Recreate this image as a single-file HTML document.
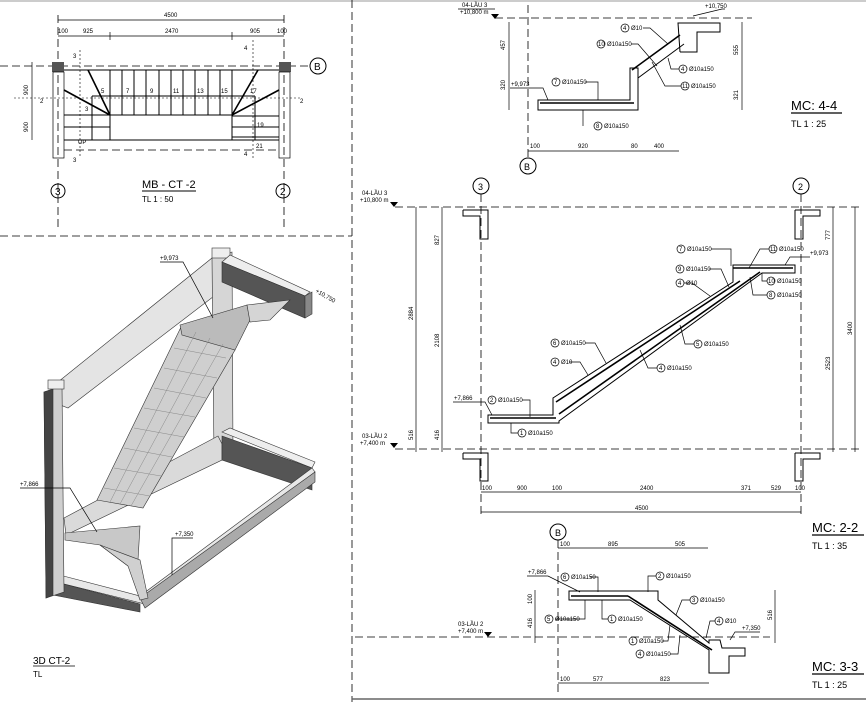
<!DOCTYPE html>
<html><head><meta charset="utf-8"><style>
html,body{margin:0;padding:0;background:#fff;}
svg{display:block;font-family:"Liberation Sans",sans-serif;}
.t{font-size:6px;fill:#000}
.d{stroke:#000;stroke-width:0.7;fill:none}
.dash{stroke:#000;stroke-width:0.8;stroke-dasharray:8 4;fill:none}
.k{stroke:#000;stroke-width:1;fill:none}
.h{stroke:#000;stroke-width:1.6;fill:none}
</style></head><body>
<svg width="866" height="702" viewBox="0 0 866 702" xmlns="http://www.w3.org/2000/svg">
<rect width="866" height="702" fill="#fff"/>
<line x1="0" y1="1" x2="866" y2="1" stroke="#bbb" stroke-width="1.5"/>
<line x1="352" y1="0" x2="352" y2="702" class="dash"/>
<line x1="0" y1="236" x2="352" y2="236" class="dash"/>
<line x1="352" y1="699" x2="866" y2="699" stroke="#666" stroke-width="1.5"/>

<!-- ===== PLAN MB-CT-2 ===== -->
<g>
<line x1="58" y1="20" x2="284" y2="20" class="d"/><text x="164" y="17" class="t" font-size="5.5">4500</text>
<line x1="58" y1="36" x2="284" y2="36" class="d"/>
<text x="58" y="33" class="t" font-size="5">100</text><text x="83" y="33" class="t" font-size="5">925</text>
<text x="165" y="33" class="t" font-size="5">2470</text><text x="250" y="33" class="t" font-size="5">905</text><text x="277" y="33" class="t" font-size="5">100</text>
<line x1="110" y1="32" x2="110" y2="40" class="d"/><line x1="232" y1="32" x2="232" y2="40" class="d"/>
<line x1="58" y1="15" x2="58" y2="230" class="dash"/><line x1="284" y1="15" x2="284" y2="230" class="dash"/>
<line x1="0" y1="66" x2="310" y2="66" class="dash"/>
<circle cx="318" cy="66" r="8" class="k"/><text x="314" y="70" font-size="10">B</text>
<rect x="52" y="62" width="12" height="10" fill="#555"/><rect x="279" y="62" width="12" height="10" fill="#555"/>
<rect x="53" y="72" width="11" height="86" class="d"/><rect x="279" y="72" width="11" height="86" class="d"/>
<line x1="64" y1="70" x2="279" y2="70" class="k"/>
<line x1="64" y1="140" x2="279" y2="140" class="k"/>
<line x1="64" y1="150" x2="279" y2="150" class="dash"/>
<line x1="92" y1="96" x2="255" y2="96" class="k"/><line x1="92" y1="96" x2="92" y2="140" class="k"/><line x1="255" y1="96" x2="255" y2="140" class="k"/>
<line x1="64" y1="115" x2="110" y2="115" class="k"/><line x1="64" y1="127" x2="110" y2="127" class="k"/>
<line x1="232" y1="116" x2="279" y2="116" class="k"/><line x1="232" y1="127" x2="279" y2="127" class="k"/><line x1="232" y1="137" x2="279" y2="137" class="k"/>
<line x1="110" y1="70" x2="110" y2="140" class="k"/><line x1="232" y1="70" x2="232" y2="140" class="k"/>
<g class="k">
<line x1="122" y1="70" x2="122" y2="115"/><line x1="134" y1="70" x2="134" y2="115"/><line x1="146" y1="70" x2="146" y2="115"/><line x1="159" y1="70" x2="159" y2="115"/><line x1="171" y1="70" x2="171" y2="115"/><line x1="183" y1="70" x2="183" y2="115"/><line x1="195" y1="70" x2="195" y2="115"/><line x1="208" y1="70" x2="208" y2="115"/><line x1="220" y1="70" x2="220" y2="115"/>
</g>
<line x1="110" y1="115" x2="232" y2="115" class="k"/>
<line x1="110" y1="115" x2="88" y2="70" class="h"/><line x1="110" y1="115" x2="64" y2="90" class="h"/>
<line x1="232" y1="115" x2="258" y2="70" class="h"/><line x1="232" y1="115" x2="279" y2="90" class="h"/>
<line x1="14" y1="98" x2="300" y2="98" stroke="#000" stroke-width="0.6" stroke-dasharray="2 2"/>
<line x1="80" y1="50" x2="80" y2="158" stroke="#000" stroke-width="0.6" stroke-dasharray="2 2"/>
<line x1="253" y1="40" x2="253" y2="158" stroke="#000" stroke-width="0.6" stroke-dasharray="2 2"/>
<text x="101" y="93" class="t">5</text><text x="126" y="93" class="t">7</text><text x="150" y="93" class="t">9</text><text x="173" y="93" class="t">11</text><text x="197" y="93" class="t">13</text><text x="221" y="93" class="t">15</text><text x="250" y="93" class="t">17</text>
<text x="85" y="111" class="t">3</text><text x="257" y="127" class="t">19</text><text x="256" y="148" class="t">21</text><text x="78" y="144" class="t">UP</text>
<text x="73" y="58" class="t">3</text><text x="73" y="162" class="t">3</text><text x="244" y="50" class="t">4</text><text x="244" y="156" class="t">4</text>
<text x="40" y="103" class="t">2</text><text x="300" y="103" class="t">2</text>
<line x1="32" y1="62" x2="32" y2="140" class="d"/>
<text x="28" y="95" class="t" font-size="5" transform="rotate(-90 28 95)">900</text>
<text x="28" y="132" class="t" font-size="5" transform="rotate(-90 28 132)">900</text>
<circle cx="58" cy="191" r="7" class="k"/><text x="55" y="195" font-size="10">3</text>
<circle cx="283" cy="191" r="7" class="k"/><text x="280" y="195" font-size="10">2</text>
<text x="142" y="188" font-size="11">MB - CT -2</text><line x1="142" y1="191" x2="196" y2="191" stroke="#000"/>
<text x="142" y="202" font-size="8">TL  1 : 50</text>
</g>

<!-- ===== 3D ===== -->
<g stroke="#333" stroke-width="0.6">
<!-- top-left beam -->
<polygon points="58,382 212,258 222,262 222,290 68,408 58,404" fill="#e4e4e4"/>
<!-- right post -->
<polygon points="212,258 232,252 233,452 214,456" fill="#d6d6d6"/>
<rect x="212" y="248" width="18" height="10" fill="#eee"/>
<!-- top-right beam -->
<polygon points="222,262 230,255 310,292 305,296" fill="#eee"/>
<polygon points="222,262 305,296 305,318 222,282" fill="#555"/>
<polygon points="305,296 312,292 312,314 305,318" fill="#888"/>
<!-- middle diagonal beam -->
<polygon points="64,518 218,436 222,444 222,460 66,535" fill="#dadada"/>
<!-- bottom-right beam -->
<polygon points="222,432 230,428 315,462 312,468" fill="#eee"/>
<polygon points="222,436 312,468 312,490 222,460" fill="#555"/>
<!-- front bottom beam -->
<polygon points="48,572 140,596 312,468 315,472 145,604 48,580" fill="#e8e8e8"/>
<polygon points="140,598 315,472 315,482 145,608" fill="#aaa"/>
<polygon points="48,580 140,604 140,612 48,594" fill="#555"/>
<!-- left post -->
<polygon points="44,392 62,386 64,592 46,598" fill="#cfcfcf"/>
<polygon points="44,392 53,389 53,595 46,598" fill="#444"/>
<rect x="48" y="380" width="16" height="9" fill="#eee"/>
<!-- stair flight -->
<polygon points="97,500 143,508 235,350 182,325" fill="#cfcfcf"/>
<polygon points="180,325 247,305 250,320 235,350 182,335" fill="#bbb"/>
<polygon points="247,305 290,300 270,320 250,322" fill="#d5d5d5"/>
<polygon points="65,533 140,526 138,560 128,566 100,545 65,540" fill="#c8c8c8"/>
<polygon points="100,545 128,566 140,600 148,598 140,560" fill="#d0d0d0"/>
</g>
<g stroke="#888" stroke-width="0.5">
<line x1="104" y1="488" x2="150" y2="496"/><line x1="114" y1="468" x2="161" y2="476"/><line x1="124" y1="448" x2="172" y2="457"/><line x1="134" y1="428" x2="184" y2="437"/><line x1="144" y1="408" x2="195" y2="417"/><line x1="154" y1="388" x2="206" y2="398"/><line x1="164" y1="368" x2="217" y2="378"/><line x1="174" y1="348" x2="226" y2="358"/>
<line x1="120" y1="504" x2="210" y2="338"/><line x1="110" y1="502" x2="196" y2="332"/><line x1="131" y1="506" x2="223" y2="344"/>
</g>
<polyline points="160,262 183,262 213,318" class="d"/><text x="160" y="260" class="t" font-size="5">+9,973</text>
<text x="315" y="292" class="t" font-size="5" transform="rotate(30 315 292)">+10,750</text>
<polyline points="20,488 70,488 97,532" class="d"/><text x="20" y="486" class="t" font-size="5">+7,866</text>
<polyline points="193,538 172,538 172,575" class="d"/><text x="175" y="536" class="t" font-size="5">+7,350</text>
<text x="33" y="664" font-size="10">3D CT-2</text><line x1="33" y1="666" x2="75" y2="666" stroke="#000" stroke-width="0.7"/>
<text x="33" y="677" font-size="8">TL</text>

<!-- ===== MC 4-4 ===== -->
<g>
<line x1="495" y1="18" x2="752" y2="18" class="dash"/>
<text x="462" y="7" class="t" font-size="5">04-LẦU 3</text><text x="460" y="14" class="t" font-size="5">+10,800 m</text>
<line x1="458" y1="9" x2="495" y2="9" class="d"/><polygon points="491,14 499,14 495,19"/>
<line x1="528" y1="5" x2="528" y2="158" class="dash"/>
<circle cx="528" cy="166" r="8" class="k"/><text x="524" y="170" font-size="9">B</text>
<polygon points="538,100 630,100 630,68 638,68 638,110 538,110" class="k"/>
<line x1="540" y1="103" x2="634" y2="103" class="h"/>
<line x1="638" y1="78" x2="684" y2="44" class="k"/><line x1="632" y1="70" x2="680" y2="35" class="h"/>
<polyline points="680,52 678,23 720,23 720,32 697,32 697,52 680,52" class="k"/>
<line x1="509" y1="22" x2="509" y2="110" class="d"/><line x1="742" y1="22" x2="742" y2="110" class="d"/>
<text x="505" y="50" class="t" font-size="5" transform="rotate(-90 505 50)">457</text>
<text x="505" y="90" class="t" font-size="5" transform="rotate(-90 505 90)">320</text>
<text x="738" y="55" class="t" font-size="5" transform="rotate(-90 738 55)">555</text>
<text x="738" y="100" class="t" font-size="5" transform="rotate(-90 738 100)">321</text>
<line x1="528" y1="151" x2="679" y2="151" class="d"/>
<text x="530" y="148" class="t" font-size="5">100</text><text x="578" y="148" class="t" font-size="5">920</text><text x="631" y="148" class="t" font-size="5">80</text><text x="654" y="148" class="t" font-size="5">400</text>
<polyline points="510,88 543,88 548,100" class="d"/><text x="511" y="86" class="t" font-size="5">+9,973</text>
<polyline points="693,16 722,9 725,9" class="d"/><text x="705" y="8" class="t" font-size="5">+10,750</text>
<polyline points="585,82 598,82 598,100" class="d"/>
<polyline points="583,126 583,110" class="d"/>
<polyline points="643,28 650,28 668,44" class="d"/>
<polyline points="631,44 638,44 657,66" class="d"/>
<polyline points="679,69 671,69 668,58" class="d"/>
<polyline points="681,86 665,86 652,62" class="d"/>
<circle cx="556" cy="82" r="4" class="d"/><text x="554" y="84" class="t" font-size="4">7</text><text x="562" y="84" class="t" font-size="5">Ø10a150</text>
<circle cx="598" cy="126" r="4" class="d"/><text x="596" y="128" class="t" font-size="4">8</text><text x="604" y="128" class="t" font-size="5">Ø10a150</text>
<circle cx="625" cy="28" r="4" class="d"/><text x="623" y="30" class="t" font-size="4">4</text><text x="631" y="30" class="t" font-size="5">Ø10</text>
<circle cx="601" cy="44" r="4" class="d"/><text x="598" y="46" class="t" font-size="4">10</text><text x="607" y="46" class="t" font-size="5">Ø10a150</text>
<circle cx="683" cy="69" r="4" class="d"/><text x="681" y="71" class="t" font-size="4">4</text><text x="689" y="71" class="t" font-size="5">Ø10a150</text>
<circle cx="685" cy="86" r="4" class="d"/><text x="682" y="88" class="t" font-size="4">11</text><text x="691" y="88" class="t" font-size="5">Ø10a150</text>
<text x="791" y="110" font-size="13">MC: 4-4</text><line x1="791" y1="113" x2="842" y2="113" stroke="#000" stroke-width="1.2"/>
<text x="791" y="127" font-size="9">TL  1 : 25</text>
</g>

<!-- ===== MC 2-2 ===== -->
<g>
<circle cx="481" cy="186" r="8" class="k"/><text x="478" y="190" font-size="9">3</text>
<circle cx="801" cy="186" r="8" class="k"/><text x="798" y="190" font-size="9">2</text>
<line x1="481" y1="194" x2="481" y2="515" class="dash"/><line x1="801" y1="194" x2="801" y2="515" class="dash"/>
<line x1="395" y1="207" x2="862" y2="207" class="dash"/><line x1="395" y1="449" x2="862" y2="449" class="dash"/>
<text x="362" y="195" class="t" font-size="5">04-LẦU 3</text><text x="360" y="202" class="t" font-size="5">+10,800 m</text><polygon points="390,202 398,202 394,207"/>
<text x="362" y="438" class="t" font-size="5">03-LẦU 2</text><text x="360" y="445" class="t" font-size="5">+7,400 m</text><polygon points="390,443 398,443 394,448"/>
<polyline points="463,210 488,210 488,239 480,239 480,216 463,216 463,210" class="k"/>
<polyline points="463,453 488,453 488,481 480,481 480,459 463,459 463,453" class="k"/>
<polyline points="795,210 820,210 820,216 803,216 803,239 795,239 795,210" class="k"/>
<polyline points="795,453 820,453 820,459 803,459 803,481 795,481 795,453" class="k"/>
<polygon points="488,415 553,415 553,398 733,282 733,265 795,265 795,273 762,273 559,421 559,423 488,423" class="k"/>
<line x1="490" y1="418" x2="556" y2="418" class="h"/>
<line x1="556" y1="402" x2="740" y2="281" class="h"/>
<line x1="559" y1="414" x2="760" y2="272" class="h"/>
<line x1="733" y1="268" x2="793" y2="268" class="h"/>
<line x1="416" y1="207" x2="416" y2="452" class="d"/><line x1="442" y1="207" x2="442" y2="452" class="d"/>
<line x1="833" y1="207" x2="833" y2="452" class="d"/><line x1="855" y1="207" x2="855" y2="452" class="d"/>
<text x="413" y="320" class="t" font-size="5" transform="rotate(-90 413 320)">2884</text>
<text x="439" y="245" class="t" font-size="5" transform="rotate(-90 439 245)">827</text>
<text x="439" y="347" class="t" font-size="5" transform="rotate(-90 439 347)">2108</text>
<text x="439" y="440" class="t" font-size="5" transform="rotate(-90 439 440)">416</text>
<text x="413" y="440" class="t" font-size="5" transform="rotate(-90 413 440)">516</text>
<text x="830" y="240" class="t" font-size="5" transform="rotate(-90 830 240)">777</text>
<text x="830" y="370" class="t" font-size="5" transform="rotate(-90 830 370)">2523</text>
<text x="852" y="335" class="t" font-size="5" transform="rotate(-90 852 335)">3400</text>
<line x1="481" y1="492" x2="801" y2="492" class="d"/><line x1="481" y1="512" x2="801" y2="512" class="d"/>
<text x="482" y="490" class="t" font-size="5">100</text><text x="517" y="490" class="t" font-size="5">900</text><text x="552" y="490" class="t" font-size="5">100</text><text x="640" y="490" class="t" font-size="5">2400</text><text x="741" y="490" class="t" font-size="5">371</text><text x="771" y="490" class="t" font-size="5">529</text><text x="795" y="490" class="t" font-size="5">100</text>
<text x="635" y="510" class="t" font-size="5">4500</text>
<polyline points="453,402 485,402 492,415" class="d"/><text x="454" y="400" class="t" font-size="5">+7,866</text>
<polyline points="810,257 790,257 785,265" class="d"/><text x="810" y="255" class="t" font-size="5">+9,973</text>
<g class="d">
<polyline points="522,400 530,400 530,417"/>
<polyline points="518,433 511,433 511,423"/>
<polyline points="585,343 595,343 606,363"/>
<polyline points="569,362 580,362 588,375"/>
<polyline points="657,368 648,368 640,350"/>
<polyline points="694,344 685,344 680,325"/>
<polyline points="711,249 731,249 731,266"/>
<polyline points="709,269 721,269 729,287"/>
<polyline points="684,283 692,283 710,296"/>
<polyline points="769,249 760,249 749,268"/>
<polyline points="767,281 762,281 762,273"/>
<polyline points="767,295 753,295 750,277"/>
</g>
<g>
<circle cx="492" cy="400" r="4" class="d"/><text x="490" y="402" class="t" font-size="4">2</text><text x="498" y="402" class="t" font-size="5">Ø10a150</text>
<circle cx="522" cy="433" r="4" class="d"/><text x="520" y="435" class="t" font-size="4">1</text><text x="528" y="435" class="t" font-size="5">Ø10a150</text>
<circle cx="555" cy="343" r="4" class="d"/><text x="553" y="345" class="t" font-size="4">6</text><text x="561" y="345" class="t" font-size="5">Ø10a150</text>
<circle cx="555" cy="362" r="4" class="d"/><text x="553" y="364" class="t" font-size="4">4</text><text x="561" y="364" class="t" font-size="5">Ø10</text>
<circle cx="661" cy="368" r="4" class="d"/><text x="659" y="370" class="t" font-size="4">4</text><text x="667" y="370" class="t" font-size="5">Ø10a150</text>
<circle cx="698" cy="344" r="4" class="d"/><text x="696" y="346" class="t" font-size="4">5</text><text x="704" y="346" class="t" font-size="5">Ø10a150</text>
<circle cx="681" cy="249" r="4" class="d"/><text x="679" y="251" class="t" font-size="4">7</text><text x="687" y="251" class="t" font-size="5">Ø10a150</text>
<circle cx="680" cy="269" r="4" class="d"/><text x="678" y="271" class="t" font-size="4">9</text><text x="686" y="271" class="t" font-size="5">Ø10a150</text>
<circle cx="680" cy="283" r="4" class="d"/><text x="678" y="285" class="t" font-size="4">4</text><text x="686" y="285" class="t" font-size="5">Ø10</text>
<circle cx="773" cy="249" r="4" class="d"/><text x="770" y="251" class="t" font-size="4">11</text><text x="779" y="251" class="t" font-size="5">Ø10a150</text>
<circle cx="771" cy="281" r="4" class="d"/><text x="768" y="283" class="t" font-size="4">10</text><text x="777" y="283" class="t" font-size="5">Ø10a150</text>
<circle cx="771" cy="295" r="4" class="d"/><text x="769" y="297" class="t" font-size="4">8</text><text x="777" y="297" class="t" font-size="5">Ø10a150</text>
</g>
<text x="812" y="532" font-size="13">MC: 2-2</text><line x1="812" y1="535" x2="864" y2="535" stroke="#000" stroke-width="1.2"/>
<text x="812" y="549" font-size="9">TL 1 : 35</text>
</g>

<!-- ===== MC 3-3 ===== -->
<g>
<circle cx="558" cy="532" r="8" class="k"/><text x="555" y="536" font-size="9">B</text>
<line x1="558" y1="540" x2="558" y2="695" class="dash"/>
<line x1="355" y1="637" x2="770" y2="637" class="dash"/>
<text x="458" y="626" class="t" font-size="5">03-LẦU 2</text><text x="458" y="633" class="t" font-size="5">+7,400 m</text><polygon points="484,632 492,632 488,637"/>
<line x1="558" y1="548" x2="708" y2="548" class="d"/>
<text x="560" y="546" class="t" font-size="5">100</text><text x="608" y="546" class="t" font-size="5">895</text><text x="675" y="546" class="t" font-size="5">505</text>
<line x1="558" y1="683" x2="709" y2="683" class="d"/>
<text x="560" y="681" class="t" font-size="5">100</text><text x="593" y="681" class="t" font-size="5">577</text><text x="660" y="681" class="t" font-size="5">823</text>
<polygon points="569,591 658,591 658,600 709,643 709,640 720,640 722,648 745,648 745,656 729,656 729,673 709,673 709,650 630,600 569,600" class="k"/>
<line x1="571" y1="596" x2="628" y2="596" class="h"/><line x1="628" y1="596" x2="712" y2="650" class="h"/>
<line x1="535" y1="590" x2="535" y2="643" class="d"/><line x1="775" y1="590" x2="775" y2="643" class="d"/>
<text x="532" y="604" class="t" font-size="5" transform="rotate(-90 532 604)">100</text>
<text x="532" y="628" class="t" font-size="5" transform="rotate(-90 532 628)">416</text>
<text x="772" y="620" class="t" font-size="5" transform="rotate(-90 772 620)">516</text>
<polyline points="527,576 548,576 580,592" class="d"/><text x="528" y="574" class="t" font-size="5">+7,866</text>
<polyline points="760,632 735,632 730,640" class="d"/><text x="742" y="630" class="t" font-size="5">+7,350</text>
<g class="d">
<polyline points="590,577 598,577 598,592"/>
<polyline points="656,576 648,576 648,592"/>
<polyline points="690,600 682,600 676,615"/>
<polyline points="555,619 585,619 585,600"/>
<polyline points="608,619 602,619 602,600"/>
<polyline points="715,621 710,621 706,638"/>
<polyline points="662,641 668,641 670,625"/>
<polyline points="670,654 678,654 680,635"/>
</g>
<circle cx="565" cy="577" r="4" class="d"/><text x="563" y="579" class="t" font-size="4">6</text><text x="571" y="579" class="t" font-size="5">Ø10a150</text>
<circle cx="660" cy="576" r="4" class="d"/><text x="658" y="578" class="t" font-size="4">2</text><text x="666" y="578" class="t" font-size="5">Ø10a150</text>
<circle cx="694" cy="600" r="4" class="d"/><text x="692" y="602" class="t" font-size="4">3</text><text x="700" y="602" class="t" font-size="5">Ø10a150</text>
<circle cx="549" cy="619" r="4" class="d"/><text x="547" y="621" class="t" font-size="4">5</text><text x="555" y="621" class="t" font-size="5">Ø10a150</text>
<circle cx="612" cy="619" r="4" class="d"/><text x="610" y="621" class="t" font-size="4">1</text><text x="618" y="621" class="t" font-size="5">Ø10a150</text>
<circle cx="719" cy="621" r="4" class="d"/><text x="717" y="623" class="t" font-size="4">4</text><text x="725" y="623" class="t" font-size="5">Ø10</text>
<circle cx="633" cy="641" r="4" class="d"/><text x="631" y="643" class="t" font-size="4">1</text><text x="639" y="643" class="t" font-size="5">Ø10a150</text>
<circle cx="640" cy="654" r="4" class="d"/><text x="638" y="656" class="t" font-size="4">4</text><text x="646" y="656" class="t" font-size="5">Ø10a150</text>
<text x="812" y="671" font-size="13">MC: 3-3</text><line x1="812" y1="674" x2="864" y2="674" stroke="#000" stroke-width="1.2"/>
<text x="812" y="688" font-size="9">TL  1 : 25</text>
</g>
</svg>
</body></html>
